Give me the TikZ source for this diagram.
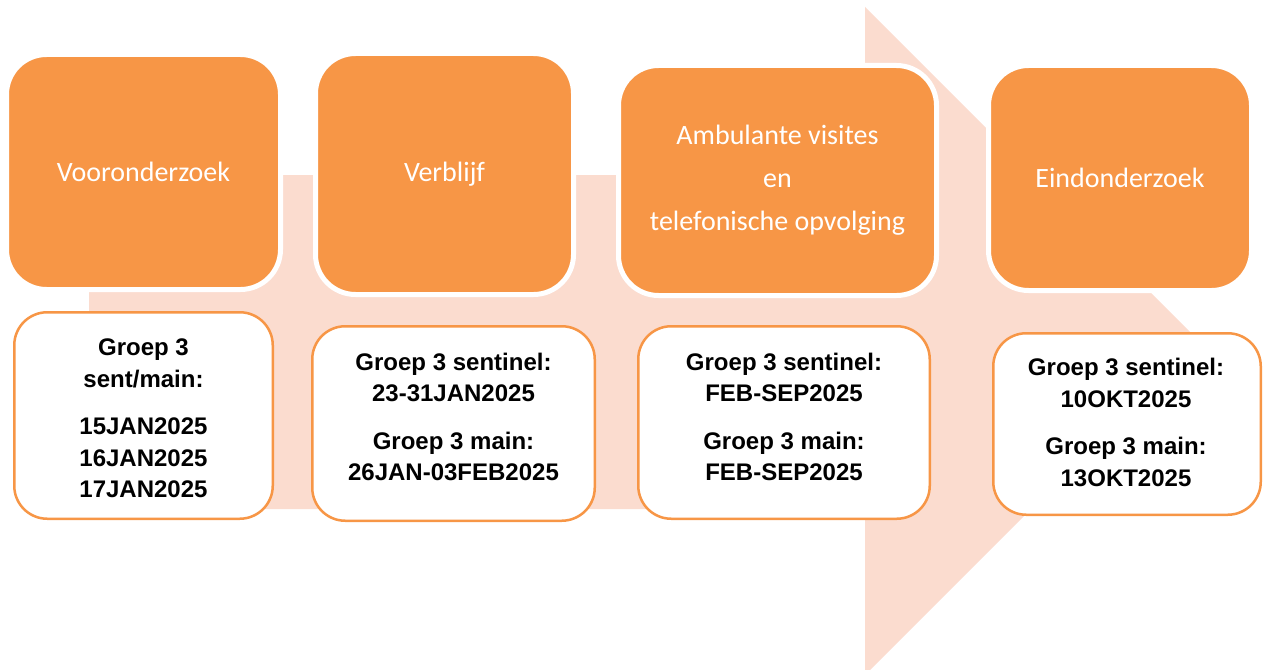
\documentclass[tikz,border=0pt]{standalone}
\usepackage{fontspec}
\setmainfont{Liberation Sans}
\newfontfamily\carlito{Carlito}
\definecolor{orng}{RGB}{247,150,70}
\definecolor{pale}{RGB}{251,220,207}
\begin{document}
\begin{tikzpicture}[x=1pt,y=-1pt,
  topbox/.style={rectangle, draw=white, line width=5pt, fill=orng, rounded corners=40pt,
    inner sep=0pt, text=white, align=center, font=\carlito\fontsize{28}{43}\selectfont},
  lowbox/.style={rectangle, draw=orng, line width=2.5pt, fill=white, rounded corners=33pt, inner sep=0pt},
  lowtext/.style={inner sep=0pt, align=center, text=black, font=\bfseries\fontsize{24}{31.5}\selectfont}]
\useasboundingbox (0,0) rectangle (1263,669);
% big background arrow
\begin{scope}
\clip (0,0) rectangle (1263,669);
\fill[pale] (89,175) -- (865,175) -- (865,7) -- (1199,341) -- (865,675) -- (865,509) -- (89,509) -- cycle;
\end{scope}
% top boxes
\node[topbox, minimum width=274pt, minimum height=235pt] (t1) at (143.5,172) {Vooronderzoek};
\node[topbox, minimum width=258pt, minimum height=241pt] (t2) at (444.5,174) {Verblijf};
\node[topbox, minimum width=318pt, minimum height=230pt] (t3) at (777.5,180.5) {Ambulante visites\\en\\telefonische opvolging};
\node[topbox, minimum width=263pt, minimum height=225pt] (t4) at (1120,178) {Eindonderzoek};
% bottom boxes
\node[lowbox, minimum width=258.5pt, minimum height=206.5pt] (b1) at (143.5,415.5) {};
\node[lowbox, minimum width=282.5pt, minimum height=194.5pt] (b2) at (453.5,423.5) {};
\node[lowbox, minimum width=291.5pt, minimum height=192.5pt] (b3) at (784,422.5) {};
\node[lowbox, minimum width=267.5pt, minimum height=181.5pt] (b4) at (1127,424) {};
% bottom texts
\node[lowtext] (b1t) at (143.5,418.5) {Groep 3\\sent/main:\\[16pt]15JAN2025\\16JAN2025\\17JAN2025};
\node[lowtext] (b2t) at (453.5,417) {Groep 3 sentinel:\\23-31JAN2025\\[16pt]Groep 3 main:\\26JAN-03FEB2025};
\node[lowtext] (b3t) at (784,417) {Groep 3 sentinel:\\FEB-SEP2025\\[16pt]Groep 3 main:\\FEB-SEP2025};
\node[lowtext] (b4t) at (1126,422.5) {Groep 3 sentinel:\\10OKT2025\\[16pt]Groep 3 main:\\13OKT2025};
\end{tikzpicture}
\end{document}
